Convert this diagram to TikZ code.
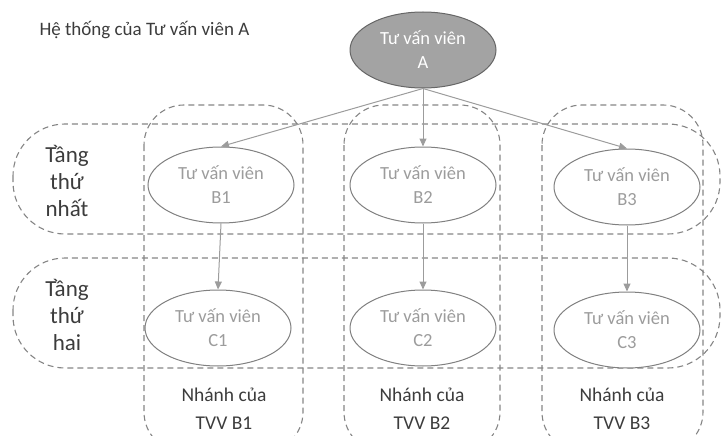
\documentclass[tikz,border=0pt]{standalone}
\usepackage{fontspec}
\setmainfont{Carlito}
\usetikzlibrary{shapes.geometric,arrows.meta}
\definecolor{dashgray}{HTML}{858585}
\definecolor{ellgray}{HTML}{808080}
\definecolor{txtgray}{HTML}{9C9C9C}
\definecolor{afill}{HTML}{A3A3A3}
\definecolor{darktxt}{HTML}{3C3C3C}
\tikzset{
  dashbox/.style={draw=dashgray, line width=1.1pt, dash pattern=on 6pt off 4pt, rounded corners=#1},
  dashbox/.default=45pt,
  ell/.style={ellipse, draw=ellgray, line width=1pt, fill=white, minimum width=146pt, minimum height=76pt, inner sep=0pt, text=txtgray, font=\fontsize{18.5}{24}\selectfont, align=center},
  topell/.style={ell, fill=afill, draw=ellgray!80!black, text=white},
  lbl/.style={text=darktxt, font=\fontsize{23}{27}\selectfont, align=center},
  brlbl/.style={text=darktxt, font=\fontsize{19.5}{28}\selectfont, align=center},
  arr/.style={draw=txtgray, line width=1pt, -{Triangle[length=8pt,width=7pt]}},
}
\begin{document}
\begin{tikzpicture}[x=1pt,y=-1pt]
\useasboundingbox (0,0) rectangle (721,436);
\clip (0,0) rectangle (721,436);
% columns (branches)
\draw[dashbox=40pt] (144,105) rectangle (303,452);
\draw[dashbox=40pt] (344,105) rectangle (500,452);
\draw[dashbox=40pt] (542,105) rectangle (703,452);
% rows (levels)
\draw[dashbox=52pt] (13,124) rectangle (720,234);
\draw[dashbox=52pt] (13,258) rectangle (720,368);
% title
\node[anchor=west, text=darktxt, font=\fontsize{19}{22}\selectfont] (title) at (36,30) {Hệ thống của Tư vấn viên A};
% ellipses
\node[topell] (A) at (423,50) {Tư vấn viên\\A};
\node[ell] (B1) at (221,185) {Tư vấn viên\\B1};
\node[ell] (B2) at (423,185) {Tư vấn viên\\B2};
\node[ell] (B3) at (627,187) {Tư vấn viên\\B3};
\node[ell] (C1) at (218,328) {Tư vấn viên\\C1};
\node[ell] (C2) at (423,328) {Tư vấn viên\\C2};
\node[ell] (C3) at (627,330) {Tư vấn viên\\C3};
% labels
\node[lbl] (L1) at (67,181) {Tầng\\thứ\\nhất};
\node[lbl] (L2) at (67,315) {Tầng\\thứ\\hai};
\node[brlbl] (N1) at (224,409) {Nhánh của\\TVV B1};
\node[brlbl] (N2) at (422,409) {Nhánh của\\TVV B2};
\node[brlbl] (N3) at (622,409) {Nhánh của\\TVV B3};
% arrows
\draw[arr] (A.south) -- (B1.north);
\draw[arr] (A.south) -- (B2.north);
\draw[arr] (A.south) -- (B3.north);
\draw[arr] (B1.south) -- (C1.north);
\draw[arr] (B2.south) -- (C2.north);
\draw[arr] (B3.south) -- (C3.north);
\end{tikzpicture}
\end{document}
